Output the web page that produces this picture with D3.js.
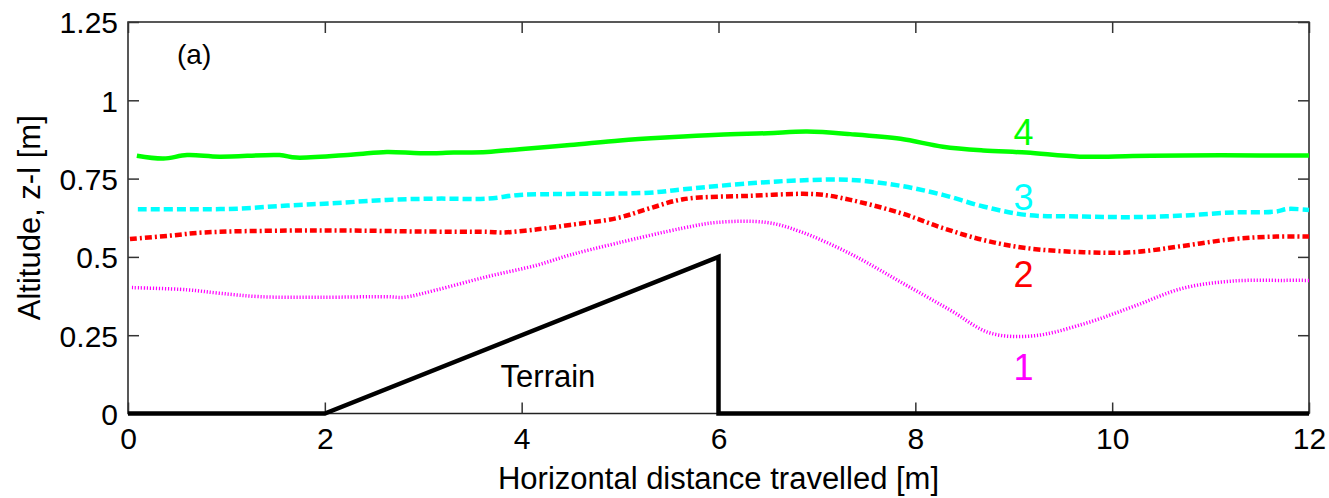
<!DOCTYPE html>
<html><head><meta charset="utf-8">
<script src="https://cdn.jsdelivr.net/npm/d3@7"></script>
<style>body{margin:0;background:#fff}svg{display:block}text{font-family:Arial,"Liberation Sans",sans-serif}</style>
</head><body>
<svg id="c" width="1329" height="498"></svg>
<script>
const xTicks = [0, 2, 4, 6, 8, 10, 12];
const yTicks = [0, 0.25, 0.5, 0.75, 1, 1.25];
const yTickLabels = ["0", "0.25", "0.5", "0.75", "1", "1.25"];

const terrainX = [0, 2, 6, 6, 12];
const terrainY = [0, 0, 0.5, 0, 0];

const s1x = [0.04,0.6,0.93,1.34,1.95,2.63,2.8,3.14,3.65,4.16,4.49,4.97,5.64,5.98,6.49,6.83,7.34,7.85,8.35,8.76,9.2,9.71,10.21,10.72,11.23,11.74,12];
const s1y = [0.402,0.395,0.384,0.373,0.371,0.373,0.371,0.395,0.437,0.474,0.506,0.544,0.592,0.610,0.610,0.581,0.51,0.42,0.331,0.257,0.248,0.286,0.341,0.400,0.423,0.425,0.425];

const s2x = [0.02,0.43,0.77,1.62,2.29,2.97,3.65,3.81,4.16,4.49,4.97,5.3,5.64,6.32,7.0,7.34,7.85,8.28,8.69,9.13,9.71,10.21,10.72,11.23,11.67,12];
const s2y = [0.557,0.568,0.578,0.584,0.584,0.581,0.580,0.578,0.588,0.602,0.624,0.655,0.684,0.695,0.700,0.682,0.640,0.592,0.554,0.528,0.515,0.515,0.535,0.557,0.565,0.565];

const s3x = [0.1,0.6,1.11,1.62,2.12,2.63,3.14,3.65,3.98,4.49,5.3,5.64,6.32,6.8,7.34,7.85,8.28,8.69,9.13,9.71,10.21,10.72,11.23,11.67,11.78,12];
const s3y = [0.652,0.652,0.654,0.664,0.672,0.682,0.686,0.686,0.698,0.701,0.705,0.716,0.735,0.744,0.746,0.727,0.698,0.661,0.634,0.629,0.627,0.632,0.642,0.645,0.653,0.650];

const s4x = [0.09,0.36,0.6,0.93,1.54,1.71,2.29,2.63,2.97,3.31,3.65,3.98,4.49,5.0,5.5,6.0,6.5,6.9,7.34,7.85,8.28,8.69,9.13,9.67,10.21,10.72,11.5,12];
const s4y = [0.823,0.814,0.825,0.820,0.825,0.817,0.827,0.835,0.831,0.833,0.835,0.844,0.857,0.872,0.882,0.890,0.895,0.900,0.892,0.877,0.852,0.840,0.833,0.820,0.822,0.824,0.824,0.824];

const seriesNames = ["1", "2", "3", "4"];
const seriesColors = ["#ff00ff", "#ff0000", "#00ffff", "#00ff00"];
const labelX = [9.1, 9.1, 9.1, 9.1];
const labelY = [0.107, 0.404, 0.65, 0.858];

const svg = d3.select("#c");
const L = 128, R = 1309, T = 22, B = 413.5;
const x = d3.scaleLinear().domain([0, 12]).range([L, R]);
const y = d3.scaleLinear().domain([0, 1.25]).range([B, T]);

const line = d3.line().x(d => x(d[0])).y(d => y(d[1]));
const smooth = d3.line().x(d => x(d[0])).y(d => y(d[1])).curve(d3.curveCatmullRom.alpha(0.5));

// frame
svg.append("rect").attr("x", L).attr("y", T).attr("width", R - L).attr("height", B - T)
  .attr("fill", "none").attr("stroke", "#222").attr("stroke-width", 1.5);

// axes with inward ticks
const fmtY = (d, i) => yTickLabels[i];
const axB = svg.append("g").attr("transform", `translate(0,${B})`)
  .call(d3.axisBottom(x).tickValues(xTicks).tickSizeInner(-11).tickSizeOuter(0).tickPadding(14).tickFormat(d3.format("d")));
const axT = svg.append("g").attr("transform", `translate(0,${T})`)
  .call(d3.axisTop(x).tickValues(xTicks).tickSizeInner(-11).tickSizeOuter(0).tickFormat(""));
const axL = svg.append("g").attr("transform", `translate(${L},0)`)
  .call(d3.axisLeft(y).tickValues(yTicks).tickSizeInner(-11).tickSizeOuter(0).tickPadding(10).tickFormat(fmtY));
const axR = svg.append("g").attr("transform", `translate(${R},0)`)
  .call(d3.axisRight(y).tickValues(yTicks).tickSizeInner(-11).tickSizeOuter(0).tickFormat(""));
[axB, axT, axL, axR].forEach(a => {
  a.select(".domain").remove();
  a.selectAll(".tick line").attr("stroke", "#333").attr("stroke-width", 1.5);
  a.selectAll("text").attr("font-size", 30).attr("fill", "#000").attr("font-family", "Arial, 'Liberation Sans', sans-serif");
});
axB.selectAll("text").attr("dy", "0.71em");
axL.selectAll("text").attr("dy", "0.36em");

// terrain
svg.append("path").datum(terrainX.map((v, i) => [v, terrainY[i]]))
  .attr("d", line).attr("fill", "none").attr("stroke", "#000").attr("stroke-width", 4.5).attr("stroke-linejoin", "miter");

// series
const sx = [s1x, s2x, s3x, s4x], sy = [s1y, s2y, s3y, s4y];
const dashes = ["1.2,1.8", "7,3,2,3", "9,4", null];
const widths = [3.5, 4.5, 4.5, 4.5];
sx.forEach((xs, k) => {
  const p = svg.append("path").datum(xs.map((v, i) => [v, sy[k][i]]))
    .attr("d", smooth).attr("fill", "none").attr("stroke", seriesColors[k]).attr("stroke-width", widths[k]);
  if (dashes[k]) p.attr("stroke-dasharray", dashes[k]);
});

// series labels
seriesNames.forEach((n, k) => {
  svg.append("text").attr("x", x(labelX[k])).attr("y", y(labelY[k])).attr("text-anchor", "middle")
    .attr("font-size", 36).attr("fill", seriesColors[k]).text(n);
});

svg.append("text").attr("x", 177).attr("y", 64).attr("font-size", 28).text("(a)");
svg.append("text").attr("x", 548).attr("y", 387).attr("text-anchor", "middle").attr("font-size", 31).text("Terrain");

svg.append("text").attr("x", (L + R) / 2).attr("y", 489).attr("text-anchor", "middle").attr("font-size", 31)
  .text("Horizontal distance travelled [m]");
svg.append("text").attr("transform", `translate(40,${(T + B) / 2}) rotate(-90)`).attr("text-anchor", "middle")
  .attr("font-size", 31).text("Altitude, z-l [m]");
</script>
</body></html>
